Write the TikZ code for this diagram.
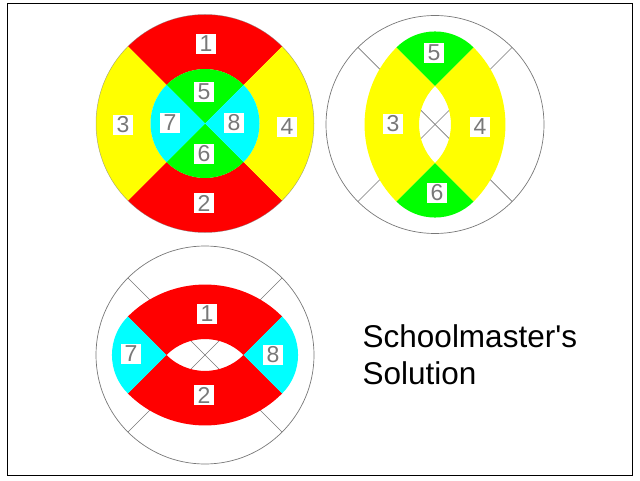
\documentclass[tikz,border=0pt]{standalone}
\usepackage{fontspec}
\setmainfont{Liberation Sans}
\definecolor{pRed}{RGB}{255,0,0}
\definecolor{pYel}{RGB}{255,255,0}
\definecolor{pGrn}{RGB}{0,255,0}
\definecolor{pCya}{RGB}{0,255,255}
\definecolor{lineGray}{RGB}{120,120,120}
\definecolor{numGray}{RGB}{120,120,120}
\def\Ro{109pt}
\def\Ri{54.5pt}
\def\Sh{38.54}
% ring sector: fill colour, start angle, end angle
\newcommand{\ringpiece}[3]{\fill[#1] (#2:\Ri) -- (#2:\Ro) arc[start angle=#2, end angle=#3, radius=\Ro] -- (#3:\Ri) arc[start angle=#3, end angle=#2, radius=\Ri] -- cycle;}
% disc sector
\newcommand{\discpiece}[3]{\fill[#1] (0,0) -- (#2:\Ri) arc[start angle=#2, end angle=#3, radius=\Ri] -- cycle;}
\tikzset{
  numlabel/.style={fill=white, text=numGray, font=\fontsize{23}{23}\selectfont, inner xsep=3.6pt, inner ysep=2.3pt},
  guide/.style={draw=lineGray, line width=0.7pt},
}
\begin{document}
\begin{tikzpicture}[x=1pt,y=1pt]
\useasboundingbox (0,0) rectangle (640,480);
\draw[line width=1.4pt] (7.3,4.3) rectangle (632.3,476.7);
\coordinate (c1) at (205,356.5);
\coordinate (c2) at (435,355.5);
\coordinate (c3) at (205,125);
% ---------- picture 1 ----------
\begin{scope}[shift={(c1)}]
  \ringpiece{pRed}{45}{135}
  \ringpiece{pRed}{225}{315}
  \ringpiece{pYel}{135}{225}
  \ringpiece{pYel}{-45}{45}
  \discpiece{pGrn}{45}{135}
  \discpiece{pGrn}{225}{315}
  \discpiece{pCya}{135}{225}
  \discpiece{pCya}{-45}{45}
  \draw[draw=lineGray, line width=0.5pt, opacity=0.6] (0,0) circle[radius=\Ro];
\end{scope}
\node[numlabel] (a1) at (206,436) {1};
\node[numlabel] (a2) at (204,277) {2};
\node[numlabel] (a3) at (123,355) {3};
\node[numlabel] (a4) at (287,353) {4};
\node[numlabel] (a5) at (204,388) {5};
\node[numlabel] (a6) at (204,326) {6};
\node[numlabel] (a7) at (170,357) {7};
\node[numlabel] (a8) at (234,357) {8};
% ---------- picture 2 ----------
\begin{scope}[shift={(c2)}]
  \draw[guide] (0,0) circle[radius=\Ro];
  \draw[guide] (45:\Ro) -- (225:\Ro);
  \draw[guide] (135:\Ro) -- (315:\Ro);
  \begin{scope}[shift={(\Sh,0)}]\ringpiece{pYel}{135}{225}\end{scope}
  \begin{scope}[shift={(-\Sh,0)}]\ringpiece{pYel}{-45}{45}\end{scope}
  \begin{scope}[shift={(0,\Sh)}]\discpiece{pGrn}{45}{135}\end{scope}
  \begin{scope}[shift={(0,-\Sh)}]\discpiece{pGrn}{225}{315}\end{scope}
\end{scope}
\node[numlabel] (b5) at (434,427) {5};
\node[numlabel] (b3) at (393,356) {3};
\node[numlabel] (b4) at (480,353) {4};
\node[numlabel] (b6) at (437,287) {6};
% ---------- picture 3 ----------
\begin{scope}[shift={(c3)}]
  \draw[guide] (0,0) circle[radius=\Ro];
  \draw[guide] (45:\Ro) -- (225:\Ro);
  \draw[guide] (135:\Ro) -- (315:\Ro);
  \begin{scope}[shift={(0,-\Sh)}]\ringpiece{pRed}{45}{135}\end{scope}
  \begin{scope}[shift={(0,\Sh)}]\ringpiece{pRed}{225}{315}\end{scope}
  \begin{scope}[shift={(-\Sh,0)}]\discpiece{pCya}{135}{225}\end{scope}
  \begin{scope}[shift={(\Sh,0)}]\discpiece{pCya}{-45}{45}\end{scope}
\end{scope}
\node[numlabel] (d1) at (207,166) {1};
\node[numlabel] (d2) at (204,85) {2};
\node[numlabel] (d7) at (131,126) {7};
\node[numlabel] (d8) at (273,125) {8};
% ---------- caption ----------
\node[anchor=base west, align=left, inner sep=0pt, font=\fontsize{31.5}{37}\selectfont] (title) at (362.5,96) {Schoolmaster\textquotesingle s\\Solution};
\end{tikzpicture}
\end{document}
